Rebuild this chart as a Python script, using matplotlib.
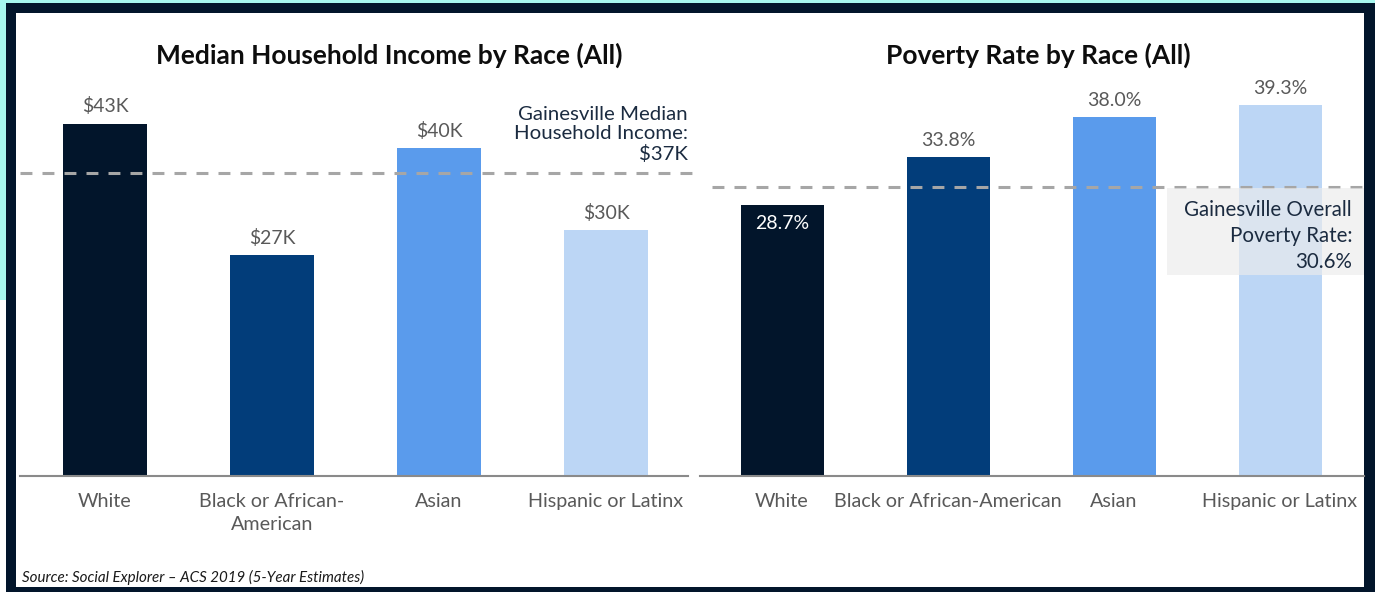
import matplotlib.pyplot as plt
from matplotlib.patches import Rectangle

plt.rcParams['font.family'] = ['Lato', 'DejaVu Sans']

# data
income_cats = ["White", "Black or African-\nAmerican", "Asian", "Hispanic or Latinx"]
income_vals = [43, 27, 40, 30]
income_ref = 37

poverty_cats = ["White", "Black or African-American", "Asian", "Hispanic or Latinx"]
poverty_vals = [28.7, 33.8, 38.0, 39.3]
poverty_ref = 30.6

bar_colors = ["#02152b", "#023d7a", "#5a9bec", "#bcd6f5"]
label_gray = "#595959"
navy = "#02152b"

W, H = 1375, 592
fig = plt.figure(figsize=(W / 100, H / 100), dpi=100)
fig.patch.set_facecolor("white")


def px_rect(x, y, w, h, color):
    # x, y = top-left corner in image pixels
    fig.add_artist(Rectangle((x / W, 1 - (y + h) / H), w / W, h / H,
                             transform=fig.transFigure, facecolor=color,
                             edgecolor="none", zorder=0))


# page frame: cyan background, navy border, white card
px_rect(0, 0, W, 300, "#a6f7ef")
px_rect(6, 3, W - 6, H - 3, navy)
px_rect(16, 13, 1364 - 16, 587 - 13, "white")


def px_axes(x0, x1, ytop, ybase):
    return fig.add_axes([x0 / W, (H - ybase) / H, (x1 - x0) / W, (ybase - ytop) / H])


def style(ax):
    for s in ["top", "right", "left"]:
        ax.spines[s].set_visible(False)
    ax.spines["bottom"].set_color("#8a8a8a")
    ax.spines["bottom"].set_linewidth(1.5)
    ax.set_yticks([])
    ax.tick_params(axis="x", length=0, pad=12.5, labelsize=14.2, labelcolor=label_gray)
    ax.patch.set_alpha(0)


dash = (3.9, 3.3)

# left panel: median household income
ax1 = px_axes(20, 688, 13, 476)
x = range(len(income_vals))
ax1.bar(x, income_vals, width=0.5, color=bar_colors, zorder=2)
ax1.set_xlim(-0.509, 3.491)
ax1.set_ylim(0, 463 / 8.19)
ax1.set_xticks(list(x))
ax1.set_xticklabels(income_cats, linespacing=1.4)
style(ax1)
for i, v in enumerate(income_vals):
    ax1.annotate(f"${v}K", (i, v), xytext=(0, 6), textcoords="offset points",
                 ha="center", va="bottom", fontsize=14, color=label_gray)
ax1.axhline(income_ref, xmin=0, xmax=1.01, color="#a6a6a6", lw=2.2,
            dashes=dash, clip_on=False, zorder=3)
ax1.text(1.0, 0.676, f"Gainesville Median\nHousehold Income:\n${income_ref}K",
         transform=ax1.transAxes, ha="right", va="bottom", fontsize=14.7,
         color="#1b2b40", linespacing=1.17)

# right panel: poverty rate
ax2 = px_axes(700, 1364, 13, 476)
x = range(len(poverty_vals))
ax2.bar(x, poverty_vals, width=0.5, color=bar_colors, zorder=2)
ax2.set_xlim(-0.494, 3.506)
ax2.set_ylim(0, 463 / 9.44)
ax2.set_xticks(list(x))
ax2.set_xticklabels(poverty_cats)
style(ax2)
for i, v in enumerate(poverty_vals):
    if i == 0:
        ax2.annotate(f"{v:.1f}%", (i, v), xytext=(0, -7), textcoords="offset points",
                     ha="center", va="top", fontsize=14, color="white", zorder=4)
    else:
        ax2.annotate(f"{v:.1f}%", (i, v), xytext=(0, 6), textcoords="offset points",
                     ha="center", va="bottom", fontsize=14, color=label_gray)
ax2.axhline(poverty_ref, xmin=0.018, xmax=1.0, color="#a6a6a6", lw=2.2,
            dashes=dash, zorder=3)
ax2.add_patch(Rectangle((0.703, 0.434), 0.297, 0.188, transform=ax2.transAxes,
                        facecolor="#ececec", alpha=0.65, edgecolor="none", zorder=4))
ax2.text(0.982, 0.441, f"Gainesville Overall\nPoverty Rate:\n{poverty_ref}%",
         transform=ax2.transAxes, ha="right", va="bottom", fontsize=14.8,
         color="#1b2b40", linespacing=1.38, zorder=5)

# panel titles
fig.text(389 / W, 1 - 55 / H, "Median Household Income by Race (All)", fontsize=19,
         fontweight="bold", color="#0d0d0d", ha="center", va="center")
fig.text(1038 / W, 1 - 55 / H, "Poverty Rate by Race (All)", fontsize=19,
         fontweight="bold", color="#0d0d0d", ha="center", va="center")

fig.text(22 / W, 1 - 577 / H, "Source: Social Explorer \u2013 ACS 2019 (5-Year Estimates)",
         fontsize=10.9, style="italic", color="#1a1a1a", va="center", ha="left")

fig.savefig("out.png", dpi=100)
